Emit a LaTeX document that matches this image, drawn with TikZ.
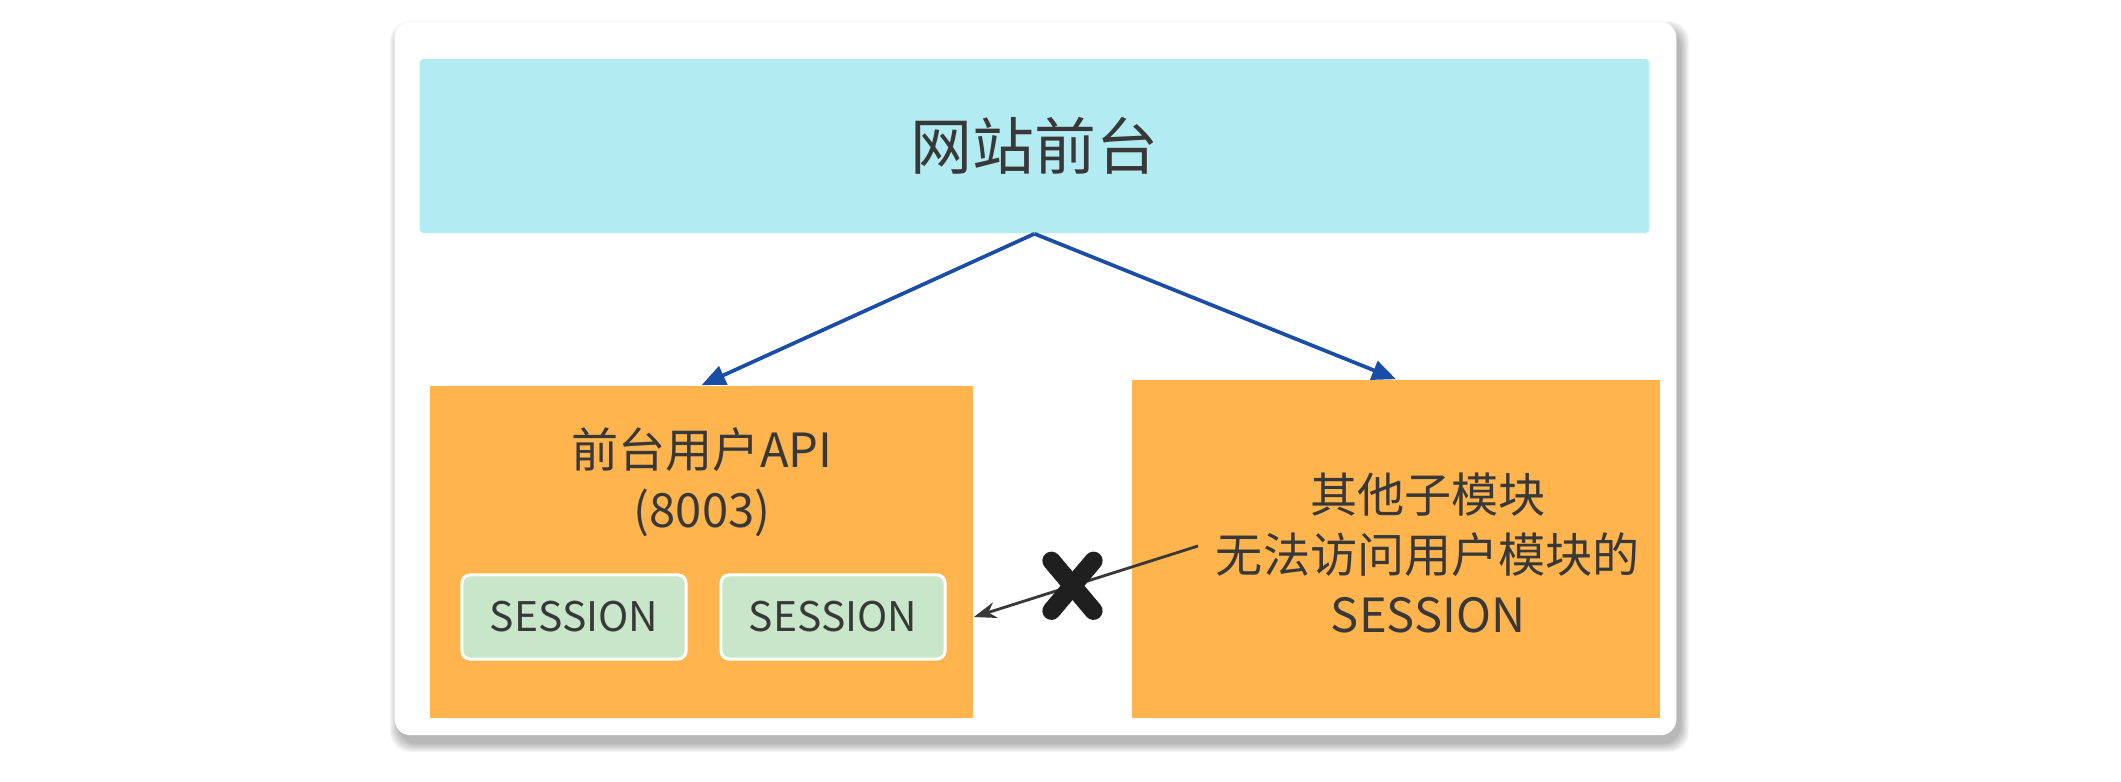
\documentclass[tikz,border=0pt]{standalone}
\usepackage{fontspec}
\setmainfont{Noto Sans CJK SC}
\usetikzlibrary{arrows.meta}

\definecolor{sitecyan}{HTML}{B2EBF2}
\definecolor{modorange}{HTML}{FFB44D}
\definecolor{sessgreen}{HTML}{C8E6C9}
\definecolor{flowblue}{HTML}{1A4DA6}
\definecolor{inkgray}{HTML}{383838}

\tikzset{
  card/.style={fill=white, rounded corners=0.16cm, minimum width=12.81cm, minimum height=7.13cm, inner sep=0pt},
  sitebox/.style={fill=sitecyan, rounded corners=0.04cm, minimum width=12.29cm, minimum height=1.74cm, inner sep=0pt,
    text=inkgray, font=\fontsize{17.6}{20}\selectfont},
  modbox/.style={fill=modorange, inner sep=0pt},
  modtext/.style={text=inkgray, align=center, font=\fontsize{13.4}{17}\selectfont},
  sessbox/.style={fill=sessgreen, draw=white, line width=0.85pt, rounded corners=0.08cm,
    minimum width=2.24cm, minimum height=0.84cm, inner sep=0pt, text=inkgray, font=\fontsize{11.6}{14}\selectfont},
  flow/.style={draw=flowblue, line width=1.05pt, -{Triangle[length=6.8pt, width=5.6pt]}},
  blocked/.style={draw=inkgray, line width=0.8pt, -{Stealth[length=6.4pt, width=4.6pt]}},
  crossmark/.style={draw=black!88, line width=5.2pt, line cap=round}
}

\begin{document}
\begin{tikzpicture}[x=0.01cm, y=-0.01cm]
        \useasboundingbox (0,0) rectangle (2121,781);

        % shadow and card
        \foreach \k in {1,...,9}
          \fill[black, opacity=0.035, rounded corners=0.2cm] (395-\k+4, 22-\k+8) rectangle (1676+\k+4, 735+\k+8);
        \node[card] at (1035.5, 378.5) (card) {};

        \node[sitebox] at (1034.5, 146) (site) {网站前台};

        \node[modbox, minimum width=5.43cm, minimum height=3.32cm] at (701.5, 552) (userapi) {};
        \node[modbox, minimum width=5.28cm, minimum height=3.38cm] at (1396, 549) (other) {};

        \node[modtext] at (702, 482) (userapilabel) {前台用户API\\(8003)};
        \node[modtext] at (1428, 553) (otherlabel) {其他子模块\\无法访问用户模块的\\SESSION};

        \node[sessbox] at (574, 617) (sessa) {SESSION};
        \node[sessbox] at (833, 617) (sessb) {SESSION};

        \draw[flow] (site.south) -- (userapi.north);
        \draw[flow] (site.south) -- (other.north);

        \coordinate (from) at (1198, 546);
        \coordinate (gate) at (userapi.east |- sessb.east);
        \draw[blocked] (from) -- coordinate[pos=0.56] (cut) (gate);

        \draw[crossmark] (cut) ++(-21,-25) -- ++(42,50);
        \draw[crossmark] (cut) ++(21,-25) -- ++(-42,50);
      \end{tikzpicture}
\end{document}
